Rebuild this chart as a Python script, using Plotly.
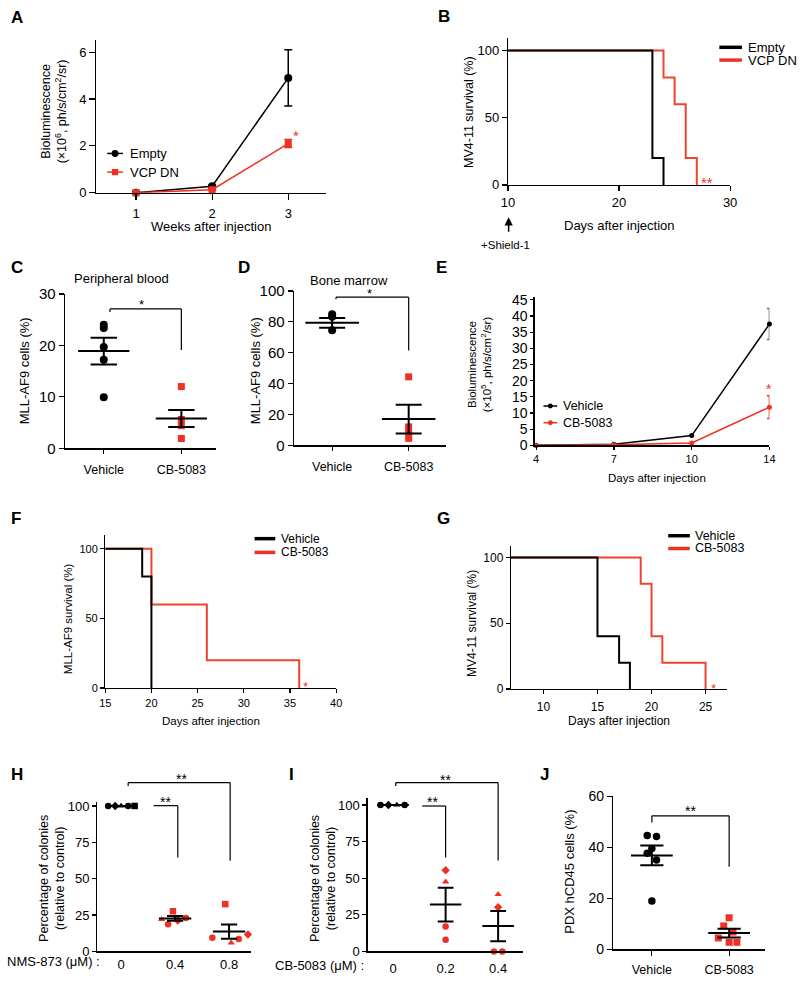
import plotly.graph_objects as go

W, H = 800, 982
FONT = "Liberation Sans, Arial, Helvetica, sans-serif"
RED = "#EE3124"
RED_LINE = "#F0432F"
GRAY = "#707070"

# ---------------- data ----------------
A_weeks = [1, 2, 3]
A_empty = [0.0, 0.28, 4.9]
A_empty_err = [0.0, 0.04, 1.2]
A_vcp = [0.0, 0.13, 2.1]
A_vcp_err = [0.0, 0.03, 0.17]

B_empty_days = [10, 23, 24]
B_empty_surv = [100, 20, 0]
B_vcp_days = [10, 24, 25, 26, 27]
B_vcp_surv = [100, 80, 60, 20, 0]
B_shield_days = [10.1, 11.9, 13.6, 15.4, 17.1]

GROUPS = ["Vehicle", "CB-5083"]
C_vehicle = [24.0, 23.4, 19.7, 17.2, 9.9]
C_cb = [12.0, 5.6, 4.4, 1.9]
C_mean = [18.9, 5.8]
C_sem = [2.6, 1.65]

D_vehicle = [85.0, 83.4, 74.5]
D_cb = [44.4, 11.9, 8.7, 4.5]
D_mean = [79.4, 17.0]
D_sem = [3.2, 9.3]

E_days = ["4", "7", "10", "14"]
E_vehicle = [0.0, 0.3, 3.0, 37.5]
E_vehicle_err = [0.0, 0.0, 0.0, 4.8]
E_cb = [0.0, 0.2, 0.7, 11.8]
E_cb_err = [0.0, 0.0, 0.0, 3.5]

F_vehicle_days = [15, 19, 20]
F_vehicle_surv = [100, 80, 0]
F_cb_days = [15, 20, 26, 36]
F_cb_surv = [100, 60, 20, 0]
F_dose_days = [14.5, 15.3, 16.1, 16.9]

G_vehicle_days = [7, 15, 17, 18]
G_vehicle_surv = [100, 40, 20, 0]
G_cb_days = [7, 19, 20, 21, 25]
G_cb_surv = [100, 80, 40, 20, 0]
G_dose_days = [9.2, 9.9, 10.6, 11.4]

H_doses = ["0", "0.4", "0.8"]
H_values = [[100, 100, 100, 100, 100],
            [22.0, 18.7, 27.6, 21.3, 22.9],
            [9.3, 32.5, 5.9, 8.6, 11.6]]
H_mean = [100, 22.7, 13.6]
H_sem = [0, 1.7, 4.9]

I_doses = ["0", "0.2", "0.4"]
I_values = [[100, 100, 100, 100],
            [55.4, 47.5, 17.0, 8.0],
            [39.0, 30.1, 0.0, 0.0]]
I_mean = [100, 32.0, 17.3]
I_sem = [0, 11.5, 10.3]

J_vehicle = [44.6, 44.2, 39.5, 37.6, 35.0, 19.0]
J_cb = [12.4, 9.2, 6.8, 4.5, 2.8, 2.8]
J_mean = [36.8, 6.4]
J_sem = [3.9, 1.7]

# ---------------- styling / placement ----------------
SYM_H = [["circle", "diamond", "triangle-up", "circle", "square"],
         ["triangle-up", "circle", "square", "diamond", "circle"],
         ["circle", "square", "triangle-up", "circle", "diamond"]]
JIT_H = [[-0.24, -0.11, 0.0, 0.13, 0.25],
         [-0.25, -0.13, -0.04, 0.05, 0.2],
         [-0.31, -0.07, 0.04, 0.18, 0.35]]
SYM_I = [["circle", "diamond", "triangle-up", "circle"],
         ["diamond", "triangle-up", "circle", "circle"],
         ["triangle-up", "diamond", "circle", "circle"]]
JIT_I = [[-0.24, -0.09, 0.07, 0.22], [0, 0, 0, 0], [0, 0, -0.08, 0.08]]
JIT_J_VEH = [-0.06, 0.06, 0, -0.06, 0.06, 0]
JIT_J_CB = [0, -0.07, 0.05, -0.14, 0, 0.1]

# panel geometry: pixel box of plot area, data ranges
P = {
    "A": dict(n=1, xpx=(91, 325), ypx=(32, 187), xr=(0.48, 3.5), yr=(0, 6.5)),
    "B": dict(n=2, xpx=(510, 736), ypx=(30, 179), xr=(10, 30), yr=(0, 109)),
    "C": dict(n=3, xpx=(59, 213), ypx=(290, 447), xr=(0.5, 2.45), yr=(0, 30)),
    "D": dict(n=4, xpx=(292, 447), ypx=(287, 444), xr=(0.5, 2.49), yr=(0, 100)),
    "E": dict(n=5, xpx=(537, 776), ypx=(293, 444), xr=(-0.02, 3.0), yr=(0, 45.9)),
    "F": dict(n=6, xpx=(100, 335), ypx=(535, 691), xr=(15, 40), yr=(0, 110)),
    "G": dict(n=7, xpx=(513, 733), ypx=(546, 692), xr=(7, 27), yr=(0, 109)),
    "H": dict(n=8, xpx=(92, 248), ypx=(807, 959), xr=(-0.44, 2.4), yr=(0, 102.7)),
    "I": dict(n=9, xpx=(367, 525), ypx=(803, 959), xr=(-0.486, 2.47), yr=(0, 104.7)),
    "J": dict(n=10, xpx=(617, 772), ypx=(801, 957), xr=(0.5, 2.47), yr=(0, 60)),
}


def ax_ids(k):
    n = P[k]["n"]
    s = "" if n == 1 else str(n)
    return "x" + s, "y" + s, "xaxis" + s, "yaxis" + s


def to_paper(k, x, y):
    p = P[k]
    x0, x1 = p["xpx"]
    y0, y1 = p["ypx"]
    a0, a1 = p["xr"]
    b0, b1 = p["yr"]
    px_ = x0 + (x - a0) / (a1 - a0) * (x1 - x0)
    py_ = y1 - (y - b0) / (b1 - b0) * (y1 - y0)
    return px_ / W, 1 - py_ / H


def pp(x, y):
    return x / W, 1 - y / H


fig = go.Figure()
layout = dict(width=W, height=H, margin=dict(l=0, r=0, t=0, b=0),
              paper_bgcolor="white", plot_bgcolor="white", showlegend=False,
              font=dict(family=FONT, color="black"))
shapes = []
annotations = []


def base_axis(**kw):
    d = dict(showline=True, linecolor="black", linewidth=1.3, ticks="outside",
             ticklen=4, tickwidth=1.2, tickcolor="black", showgrid=False,
             zeroline=False, fixedrange=True, mirror=False,
             tickfont=dict(family=FONT, size=12, color="black"))
    d.update(kw)
    return d


def setup_axes(k, xkw, ykw):
    xa, ya, xl, yl = ax_ids(k)
    p = P[k]
    layout[xl] = base_axis(domain=[p["xpx"][0] / W, p["xpx"][1] / W],
                           range=list(p["xr"]), anchor=ya, **xkw)
    layout[yl] = base_axis(domain=[1 - p["ypx"][1] / H, 1 - p["ypx"][0] / H],
                           range=list(p["yr"]), anchor=xa, **ykw)


def add(k, **kw):
    xa, ya, _, _ = ax_ids(k)
    kw.setdefault("cliponaxis", False)
    kw.setdefault("hoverinfo", "skip")
    fig.add_trace(go.Scatter(xaxis=xa, yaxis=ya, **kw))


def text(x, y, t, size=12, color="black", xanchor="center", yanchor="middle",
         angle=0, bold=False):
    if bold:
        t = "<b>" + t + "</b>"
    px_, py_ = pp(x, y)
    annotations.append(dict(x=px_, y=py_, xref="paper", yref="paper", text=t,
                            showarrow=False, xanchor=xanchor, yanchor=yanchor,
                            textangle=angle,
                            font=dict(family=FONT, size=size, color=color)))


def data_text(k, x, y, t, size=14, color="black", yshift=-4):
    a, b = to_paper(k, x, y)
    annotations.append(dict(x=a, y=b, xref="paper", yref="paper", text=t, showarrow=False,
                            xanchor="center", yanchor="middle", yshift=yshift,
                            font=dict(family=FONT, size=size, color=color)))


def bracket(k, pts, width=1.2):
    for (xa_, ya_), (xb_, yb_) in zip(pts[:-1], pts[1:]):
        a0, b0 = to_paper(k, xa_, ya_)
        a1, b1 = to_paper(k, xb_, yb_)
        shapes.append(dict(type="line", xref="paper", yref="paper", x0=a0, y0=b0,
                           x1=a1, y1=b1, line=dict(color="black", width=width)))


def legend_line(x0, x1, y, color, width=3.2):
    a0, b0 = pp(x0, y)
    a1, _ = pp(x1, y)
    shapes.append(dict(type="line", xref="paper", yref="paper", x0=a0, x1=a1,
                       y0=b0, y1=b0, line=dict(color=color, width=width)))


def legend_marker(x, y, kind, color, r=3.5):
    a0, b0 = pp(x - r, y + r)
    a1, b1 = pp(x + r, y - r)
    shapes.append(dict(type="circle" if kind == "circle" else "rect",
                       xref="paper", yref="paper", x0=a0, x1=a1, y0=b0, y1=b1,
                       fillcolor=color, line=dict(width=0)))


def mean_sem(k, xpos, means, sems, hm, hc, width=2):
    xs, ys = [], []
    for x, m, s in zip(xpos, means, sems):
        xs += [x - hm, x + hm, None]
        ys += [m, m, None]
        if s > 0:
            xs += [x, x, None, x - hc, x + hc, None, x - hc, x + hc, None]
            ys += [m - s, m + s, None, m + s, m + s, None, m - s, m - s, None]
    add(k, x=xs, y=ys, mode="lines", line=dict(color="black", width=width))


# ---------------- Panel A ----------------
setup_axes("A",
           dict(tickvals=A_weeks, ticklen=6, ticklabelstandoff=2,
                tickfont=dict(family=FONT, size=13)),
           dict(tickvals=[0, 2, 4, 6], ticklen=6,
                tickfont=dict(family=FONT, size=13)))
add("A", x=A_weeks, y=A_empty, mode="lines+markers",
    line=dict(color="black", width=1.5),
    marker=dict(symbol="circle", size=8, color="black"),
    error_y=dict(type="data", array=A_empty_err, color="black", thickness=1.5, width=4))
add("A", x=A_weeks, y=A_vcp, mode="lines+markers",
    line=dict(color=RED, width=1.5),
    marker=dict(symbol="square", size=7, color=RED),
    error_y=dict(type="data", array=A_vcp_err, color=RED, thickness=1.5, width=4))
data_text("A", 3.1, 2.6, "*", size=15, color=RED)
legend_line(102, 118, 147, "black", 1.5)
legend_marker(110, 147, "circle", "black", 3.5)
text(123, 147, "Empty", 13, xanchor="left")
legend_line(102, 118, 166, RED, 1.5)
legend_marker(110, 166, "square", RED, 3.2)
text(123, 166, "VCP DN", 13, xanchor="left")
text(208, 221, "Weeks after injection", 13)
text(48, 104, "Bioluminescence<br>(×10<sup>6</sup>, ph/s/cm<sup>2</sup>/sr)", 12.5, angle=-90)

# ---------------- Panel B ----------------
setup_axes("B",
           dict(tickvals=[10, 20, 30], ticklen=5, tickfont=dict(family=FONT, size=13)),
           dict(tickvals=[0, 50, 100], ticklen=5, tickfont=dict(family=FONT, size=13)))
add("B", x=B_vcp_days, y=B_vcp_surv, mode="lines", line=dict(color=RED_LINE, width=2, shape="hv"))
add("B", x=B_empty_days, y=B_empty_surv, mode="lines", line=dict(color="black", width=2, shape="hv"))
add("B", x=B_shield_days, y=[-20.5] * len(B_shield_days), mode="markers",
    marker=dict(symbol="square", size=5, color=RED))
data_text("B", 27.9, 4.6, "**", size=15, color=RED)
legend_line(725, 748, 39, "black", 3.5)
text(752, 39, "Empty", 13, xanchor="left")
legend_line(725, 748, 52, RED, 3.5)
text(752, 52, "VCP DN", 13, xanchor="left")
text(623, 220, "Days after injection", 13)
text(470, 105, "MV4-11 survival (%)", 12.5, angle=-90)
annotations.append(dict(x=10.05, y=pp(0, 212)[1], xref="x2", yref="paper", text="",
                        showarrow=True, arrowhead=2, arrowsize=1.1, arrowwidth=1.5,
                        arrowcolor="black", ax=0, ay=16))
text(507, 240, "+Shield-1", 11.5)

# ---------------- Panel C ----------------
setup_axes("C",
           dict(tickvals=[1, 2], ticktext=GROUPS, ticklen=4, ticklabelstandoff=5,
                tickfont=dict(family=FONT, size=12.5)),
           dict(tickvals=[0, 10, 20, 30], ticklen=5, tickfont=dict(family=FONT, size=15)))
add("C", x=[1] * len(C_vehicle), y=C_vehicle, mode="markers",
    marker=dict(symbol="circle", size=8, color="black"))
add("C", x=[2] * len(C_cb), y=C_cb, mode="markers",
    marker=dict(symbol="square", size=7, color=RED))
mean_sem("C", [1, 2], C_mean, C_sem, 0.33, 0.17)
bracket("C", [(1.08, 26.5), (1.08, 27.1), (2.0, 27.1), (2.0, 19.1)])
data_text("C", 1.49, 28.7, "*", size=13)
text(117, 274, "Peripheral blood", 13)
text(18, 368, "MLL-AF9 cells (%)", 13, angle=-90)

# ---------------- Panel D ----------------
setup_axes("D",
           dict(tickvals=[1, 2], ticktext=GROUPS, ticklen=4, ticklabelstandoff=5,
                tickfont=dict(family=FONT, size=12.5)),
           dict(tickvals=[0, 20, 40, 60, 80, 100], ticklen=5, tickfont=dict(family=FONT, size=15)))
add("D", x=[1] * len(D_vehicle), y=D_vehicle, mode="markers",
    marker=dict(symbol="circle", size=8, color="black"))
add("D", x=[2] * len(D_cb), y=D_cb, mode="markers",
    marker=dict(symbol="square", size=7, color=RED))
mean_sem("D", [1, 2], D_mean, D_sem, 0.35, 0.17)
bracket("D", [(1.05, 94.6), (1.05, 96.0), (2.0, 96.0), (2.0, 61.4)])
data_text("D", 1.49, 101, "*", size=13)
text(348, 276, "Bone marrow", 13)
text(253, 368, "MLL-AF9 cells (%)", 13, angle=-90)

# ---------------- Panel E ----------------
setup_axes("E",
           dict(type="category", ticklen=3, tickfont=dict(family=FONT, size=11)),
           dict(dtick=5, tick0=0, ticklen=3, tickfont=dict(family=FONT, size=14)))
add("E", x=E_days, y=E_vehicle, mode="lines+markers",
    line=dict(color="black", width=1.5), marker=dict(size=5, color="black"),
    error_y=dict(type="data", array=E_vehicle_err, color=GRAY, thickness=1.5, width=2.5))
add("E", x=E_days, y=E_cb, mode="lines+markers",
    line=dict(color=RED, width=1.5), marker=dict(size=5, color=RED),
    error_y=dict(type="data", array=E_cb_err, color=RED, thickness=1.5, width=2.5))
data_text("E", 3, 18.8, "*", size=14, color=RED)
legend_line(546, 560, 404, "black", 1.5)
legend_marker(553, 404, "circle", "black", 2.5)
text(564, 404, "Vehicle", 12.5, xanchor="left")
legend_line(546, 560, 421, RED, 1.5)
legend_marker(553, 421, "circle", RED, 2.5)
text(564, 421, "CB-5083", 12.5, xanchor="left")
text(662, 477, "Days after injection", 11.5)
text(481, 362, "Bioluminescence<br>(×10<sup>5</sup>, ph/s/cm<sup>2</sup>/sr)", 11.5, angle=-90)

# ---------------- Panel F ----------------
setup_axes("F",
           dict(tickvals=[15, 20, 25, 30, 35, 40], ticklen=4, tickfont=dict(family=FONT, size=11)),
           dict(tickvals=[0, 50, 100], ticklen=4, tickfont=dict(family=FONT, size=11)))
add("F", x=F_cb_days, y=F_cb_surv, mode="lines", line=dict(color=RED_LINE, width=2, shape="hv"))
add("F", x=F_vehicle_days, y=F_vehicle_surv, mode="lines", line=dict(color="black", width=2, shape="hv"))
add("F", x=F_dose_days, y=[-17.6] * len(F_dose_days), mode="markers",
    marker=dict(symbol="square", size=5, color=RED))
data_text("F", 36.7, 4.2, "*", size=13, color=RED)
legend_line(252, 273, 539, "black", 3.5)
text(277, 539, "Vehicle", 12, xanchor="left")
legend_line(252, 273, 553, RED, 3.5)
text(277, 553, "CB-5083", 12, xanchor="left")
text(208, 725, "Days after injection", 11.5)
text(62, 620, "MLL-AF9 survival (%)", 11.5, angle=-90)

# ---------------- Panel G ----------------
setup_axes("G",
           dict(tickvals=[10, 15, 20, 25], ticklen=4, ticklabelstandoff=2,
                tickfont=dict(family=FONT, size=12)),
           dict(tickvals=[0, 50, 100], ticklen=4, tickfont=dict(family=FONT, size=12)))
add("G", x=G_cb_days, y=G_cb_surv, mode="lines", line=dict(color=RED_LINE, width=2, shape="hv"))
add("G", x=G_vehicle_days, y=G_vehicle_surv, mode="lines", line=dict(color="black", width=2, shape="hv"))
add("G", x=G_dose_days, y=[-18.7] * len(G_dose_days), mode="markers",
    marker=dict(symbol="square", size=5, color=RED))
data_text("G", 25.7, 3.7, "*", size=13, color=RED)
legend_line(673, 695, 536, "black", 3.5)
text(698, 536, "Vehicle", 12.5, xanchor="left")
legend_line(673, 695, 549, RED, 3.5)
text(698, 549, "CB-5083", 12.5, xanchor="left")
text(623, 725, "Days after injection", 12)
text(473, 625, "MV4-11 survival (%)", 12, angle=-90)

# ---------------- Panel H ----------------
setup_axes("H",
           dict(tickvals=[0, 1, 2], ticktext=H_doses, ticks="", ticklabelstandoff=1,
                tickfont=dict(family=FONT, size=13)),
           dict(tickvals=[0, 25, 50, 75, 100], ticklen=4, tickfont=dict(family=FONT, size=13)))
for gi, (vals, syms, jit) in enumerate(zip(H_values, SYM_H, JIT_H)):
    add("H", x=[gi + j for j in jit], y=vals, mode="markers",
        marker=dict(symbol=syms, size=6.5, color="black" if gi == 0 else RED))
mean_sem("H", [0, 1, 2], H_mean, H_sem, 0.3, 0.15)
bracket("H", [(0.13, 113.7), (0.13, 116), (2.02, 116), (2.02, 62.4)])
bracket("H", [(0.6, 100.2), (1.05, 100.2), (1.05, 64.6)])
data_text("H", 1.11, 121, "**", size=14)
data_text("H", 0.82, 105.4, "**", size=14)
text(97, 969, "NMS-873 (μM) :", 13, xanchor="right")
text(45, 885, "Percentage of colonies<br>(relative to control)", 12.5, angle=-90)

# ---------------- Panel I ----------------
setup_axes("I",
           dict(tickvals=[0, 1, 2], ticktext=I_doses, ticks="", ticklabelstandoff=5,
                tickfont=dict(family=FONT, size=13)),
           dict(tickvals=[0, 25, 50, 75, 100], ticklen=4, tickfont=dict(family=FONT, size=13)))
for gi, (vals, syms, jit) in enumerate(zip(I_values, SYM_I, JIT_I)):
    add("I", x=[gi + j for j in jit], y=vals, mode="markers",
        marker=dict(symbol=syms, size=6.5, color="black" if gi == 0 else RED))
mean_sem("I", [0, 1, 2], I_mean, I_sem, 0.3, 0.15)
bracket("I", [(0.05, 113), (0.05, 115.2), (2.0, 115.2), (2.0, 62)])
bracket("I", [(0.555, 99.3), (1.0, 99.3), (1.0, 64.2)])
data_text("I", 0.99, 120, "**", size=14)
data_text("I", 0.75, 104.5, "**", size=14)
text(365, 973, "CB-5083 (μM) :", 13, xanchor="right")
text(321, 885, "Percentage of colonies<br>(relative to control)", 12.5, angle=-90)

# ---------------- Panel J ----------------
setup_axes("J",
           dict(tickvals=[1, 2], ticktext=GROUPS, ticklen=5, ticklabelstandoff=3,
                tickfont=dict(family=FONT, size=12.5)),
           dict(tickvals=[0, 20, 40, 60], ticklen=5, tickfont=dict(family=FONT, size=14)))
add("J", x=[1 + j for j in JIT_J_VEH], y=J_vehicle, mode="markers",
    marker=dict(symbol="circle", size=7.5, color="black"))
add("J", x=[2 + j for j in JIT_J_CB], y=J_cb, mode="markers",
    marker=dict(symbol="square", size=7, color=RED))
mean_sem("J", [1, 2], J_mean, J_sem, 0.27, 0.15)
bracket("J", [(1.0, 49.7), (1.0, 52.3), (2.0, 52.3), (2.0, 32.4)])
data_text("J", 1.5, 55.8, "**", size=14)
text(573, 878, "PDX hCD45 cells (%)", 13, angle=-90)

# ---------------- panel letters ----------------
for letter, (lx, ly) in {"A": (2, 9), "B": (437, 8), "C": (2, 263), "D": (233, 263),
                         "E": (435, 263), "F": (2, 518), "G": (436, 518),
                         "H": (2, 779), "I": (285, 779), "J": (540, 779)}.items():
    text(lx, ly, letter, 17, xanchor="left", bold=True)

layout["shapes"] = shapes
layout["annotations"] = annotations
fig.update_layout(**layout)
fig.write_html(
    "out.html",
    config={"displayModeBar": False, "staticPlot": True},
    post_script="document.body.style.margin='0';document.body.style.padding='0';"
                "document.body.style.overflow='hidden';",
)
